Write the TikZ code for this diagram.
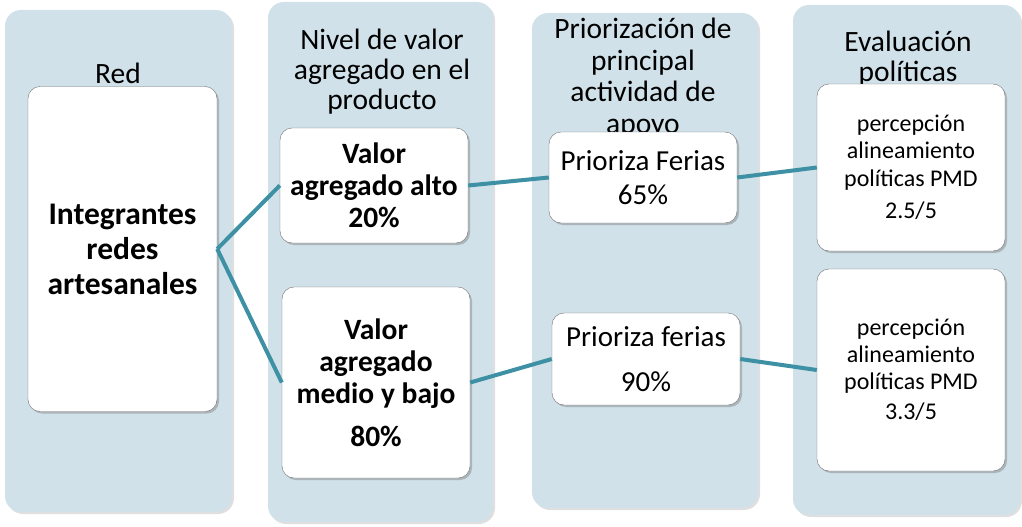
\documentclass[tikz,border=0pt]{standalone}
\usepackage{fontspec}
\setmainfont{Carlito}
\usepackage{tikz}
\usetikzlibrary{shadows}

\definecolor{panelblue}{RGB}{208,225,233}
\definecolor{linkteal}{RGB}{62,145,165}

\begin{document}
\begin{tikzpicture}[x=1pt,y=-1pt,
                    panel/.style={fill=panelblue,rounded corners=16pt,
                      drop shadow={opacity=0.25,shadow xshift=2pt,shadow yshift=-2pt}},
                    item/.style={fill=white,draw=black!55,rounded corners=12pt,align=center,
                      drop shadow={opacity=0.45,shadow xshift=2pt,shadow yshift=-2pt}},
                    heading/.style={align=center,font=\fontsize{29.5}{30}\selectfont},
                    link/.style={draw=linkteal,line width=4pt}]
  \useasboundingbox (0,0) rectangle (1022,527);

  % columns
  \node[panel,minimum width=227pt,minimum height=502pt] (colRed)   at (118.5,261) {};
  \node[panel,minimum width=225pt,minimum height=520pt] (colValor) at (380.5,262) {};
  \node[panel,minimum width=226pt,minimum height=495pt] (colPrio)  at (645,260.5) {};
  \node[panel,minimum width=227pt,minimum height=510pt] (colEval)  at (906.5,260) {};

  \node[heading] (tRed)   at (118,73)  {Red};
  \node[heading] (tValor) at (382,72)  {Nivel de valor\\agregado en el\\producto};
  \node[heading,font=\fontsize{29.5}{31.5}\selectfont] (tPrio) at (643,78)
       {Priorización de\\principal\\actividad de\\apoyo};
  \node[heading] (tEval)  at (908,59)  {Evaluación\\políticas};

  % boxes
  \node[item,minimum width=189pt,minimum height=325pt,font=\fontsize{31.5}{35}\selectfont\bfseries]
       (R) at (122.5,249) {Integrantes\\redes\\artesanales};
  \node[item,minimum width=188pt,minimum height=115pt,font=\fontsize{29.5}{32}\selectfont\bfseries]
       (A) at (374,185.5) {Valor\\agregado alto\\20\%};
  \node[item,minimum width=188pt,minimum height=191pt,font=\fontsize{29.5}{32}\selectfont\bfseries]
       (B) at (376,382.5) {Valor\\agregado\\medio y bajo\\[11pt]80\%};
  \node[item,minimum width=188pt,minimum height=91pt,font=\fontsize{29}{34}\selectfont]
       (C) at (643,177.5) {Prioriza Ferias\\65\%};
  \node[item,minimum width=188pt,minimum height=92pt,font=\fontsize{29}{33}\selectfont]
       (D) at (646,359) {Prioriza ferias\\[12pt]90\%};
  \node[item,minimum width=188pt,minimum height=167pt,font=\fontsize{24}{27.5}\selectfont]
       (E) at (911,167.5) {percepción\\alineamiento\\políticas PMD\\[5pt]2.5/5};
  \node[item,minimum width=188pt,minimum height=202pt,font=\fontsize{24}{27}\selectfont]
       (F) at (911,370) {percepción\\alineamiento\\políticas PMD\\[3pt]3.3/5};

  \path[link] (R.east) edge (A.west)
                       edge (B.west)
              (A.east) edge (C.west)
              (B.east) edge (D.west)
              (C.east) edge (E.west)
              (D.east) edge (F.west);
\end{tikzpicture}
\end{document}
